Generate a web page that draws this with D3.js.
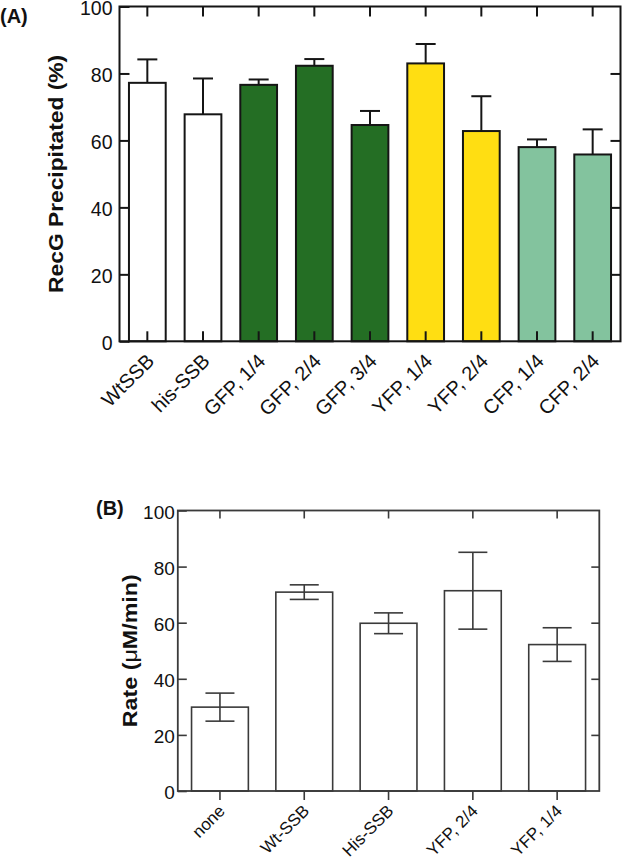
<!DOCTYPE html>
<html><head><meta charset="utf-8">
<script src="https://cdn.jsdelivr.net/npm/d3@7"></script>
<style>html,body{margin:0;padding:0;background:#fff;}svg{display:block;font-family:"Liberation Sans",Arial,sans-serif;}</style>
</head><body>
<script>
// Panel A data
const catsA = ["WtSSB","his-SSB","GFP, 1/4","GFP, 2/4","GFP, 3/4","YFP, 1/4","YFP, 2/4","CFP, 1/4","CFP, 2/4"];
const valsA = [77.2, 67.8, 76.6, 82.3, 64.6, 83.0, 62.8, 58.0, 55.8];
const errA  = [7.0, 10.7, 1.6, 2.0, 4.2, 5.8, 10.4, 2.3, 7.5];
const groupA = ["white","white","dkgreen","dkgreen","dkgreen","yellow","yellow","ltgreen","ltgreen"];
const ticksA = [0,20,40,60,80,100];
// Panel B data
const catsB = ["none","Wt-SSB","His-SSB","YFP, 2/4","YFP, 1/4"];
const valsB = [29.9, 70.9, 59.8, 71.4, 52.2];
const errB  = [5.0, 2.6, 3.7, 13.7, 6.0];
const ticksB = [0,20,40,60,80,100];

const colors = {white:"#ffffff", dkgreen:"#246e24", yellow:"#ffde12", ltgreen:"#83c39e"};

const W = 622, H = 862;
const svg = d3.select("body").append("svg").attr("width", W).attr("height", H);
svg.append("rect").attr("width", W).attr("height", H).attr("fill", "#fff");

// ---------- Panel A ----------
const A = {l:119.5, r:620.5, t:6.5, b:341.3};
const xA = d3.scaleBand().domain(catsA).range([A.l, A.r]).paddingInner(0.34).paddingOuter(0.17);
const yA = d3.scaleLinear().domain([0,100]).range([A.b, A.t]);
const gA = svg.append("g");

gA.selectAll("rect.bar").data(catsA).join("rect").attr("class","bar")
  .attr("x", d => xA(d)).attr("width", xA.bandwidth())
  .attr("y", (d,i) => yA(valsA[i])).attr("height", (d,i) => yA(0) - yA(valsA[i]))
  .attr("fill", (d,i) => colors[groupA[i]]).attr("stroke", "#151515").attr("stroke-width", 2);

const capA = 20;
catsA.forEach((c,i) => {
  const cx = xA(c) + xA.bandwidth()/2;
  gA.append("line").attr("x1", cx).attr("x2", cx).attr("y1", yA(valsA[i])).attr("y2", yA(valsA[i]+errA[i]))
    .attr("stroke", "#151515").attr("stroke-width", 2);
  gA.append("line").attr("x1", cx-capA/2).attr("x2", cx+capA/2).attr("y1", yA(valsA[i]+errA[i])).attr("y2", yA(valsA[i]+errA[i]))
    .attr("stroke", "#151515").attr("stroke-width", 2);
});

function styleAxis(g, color, sw){
  g.select(".domain").remove();
  g.selectAll(".tick line").attr("stroke", color).attr("stroke-width", sw);
}
const axAL = gA.append("g").attr("transform", `translate(${A.l},0)`)
  .call(d3.axisLeft(yA).tickValues(ticksA).tickSize(-10).tickSizeOuter(0).tickPadding(7));
styleAxis(axAL, "#151515", 2);
axAL.selectAll("text").attr("font-size", 19.5).attr("dy", "0.41em").attr("fill", "#111").attr("font-family", "Liberation Sans, Arial, sans-serif");
const axAR = gA.append("g").attr("transform", `translate(${A.r},0)`)
  .call(d3.axisRight(yA).tickValues(ticksA.filter(v=>v>0&&v<100)).tickSize(-10).tickSizeOuter(0).tickFormat(""));
styleAxis(axAR, "#151515", 2);
const axAT = gA.append("g").attr("transform", `translate(0,${A.t})`)
  .call(d3.axisTop(xA).tickSize(-10).tickSizeOuter(0).tickFormat(""));
styleAxis(axAT, "#151515", 2);
const axAB = gA.append("g").attr("transform", `translate(0,${A.b})`)
  .call(d3.axisBottom(xA).tickSize(-10).tickSizeOuter(0).tickFormat(""));
styleAxis(axAB, "#151515", 2);
gA.append("rect").attr("x", A.l).attr("y", A.t).attr("width", A.r-A.l).attr("height", A.b-A.t)
  .attr("fill", "none").attr("stroke", "#151515").attr("stroke-width", 2);

gA.selectAll("text.xl").data(catsA).join("text").attr("class","xl")
  .attr("transform", d => `translate(${xA(d)+xA.bandwidth()/2+8},${A.b+21}) rotate(-45)`)
  .attr("text-anchor", "end").attr("font-size", 20).attr("fill", "#111").text(d => d);

gA.append("text").attr("transform", `translate(63,${(A.t+A.b)/2}) rotate(-90)`)
  .attr("text-anchor", "middle").attr("font-size", 21).attr("font-weight", "bold").attr("fill", "#111")
  .attr("textLength", 238).attr("lengthAdjust", "spacingAndGlyphs")
  .text("RecG Precipitated (%)");
gA.append("text").attr("x", 0).attr("y", 23).attr("font-size", 20).attr("font-weight", "bold").attr("fill", "#111").text("(A)");

// ---------- Panel B ----------
const B = {l:177.8, r:599.3, t:510.5, b:791};
const xB = d3.scaleBand().domain(catsB).range([B.l, B.r]).paddingInner(0.326).paddingOuter(0.163);
const yB = d3.scaleLinear().domain([0,100]).range([B.b, B.t]);
const gB = svg.append("g");
const cB = "#3a3a3a";

gB.selectAll("rect.bar").data(catsB).join("rect").attr("class","bar")
  .attr("x", d => xB(d)).attr("width", xB.bandwidth())
  .attr("y", (d,i) => yB(valsB[i])).attr("height", (d,i) => yB(0) - yB(valsB[i]))
  .attr("fill", "#fff").attr("stroke", cB).attr("stroke-width", 1.6);

const capB = 29;
catsB.forEach((c,i) => {
  const cx = xB(c) + xB.bandwidth()/2;
  const lo = valsB[i]-errB[i], hi = valsB[i]+errB[i];
  gB.append("line").attr("x1", cx).attr("x2", cx).attr("y1", yB(lo)).attr("y2", yB(hi)).attr("stroke", cB).attr("stroke-width", 1.6);
  [lo,hi].forEach(v => gB.append("line").attr("x1", cx-capB/2).attr("x2", cx+capB/2).attr("y1", yB(v)).attr("y2", yB(v)).attr("stroke", cB).attr("stroke-width", 1.6));
});

const axBL = gB.append("g").attr("transform", `translate(${B.l},0)`)
  .call(d3.axisLeft(yB).tickValues(ticksB).tickSize(-9).tickSizeOuter(0).tickPadding(3));
styleAxis(axBL, cB, 1.6);
axBL.selectAll("text").attr("font-size", 19).attr("dy", "0.4em").attr("fill", "#111").attr("font-family", "Liberation Sans, Arial, sans-serif");
const axBR = gB.append("g").attr("transform", `translate(${B.r},0)`)
  .call(d3.axisRight(yB).tickValues(ticksB.filter(v=>v>0&&v<100)).tickSize(-8).tickSizeOuter(0).tickFormat(""));
styleAxis(axBR, cB, 1.6);
const axBT = gB.append("g").attr("transform", `translate(0,${B.t})`)
  .call(d3.axisTop(xB).tickSize(-8).tickSizeOuter(0).tickFormat(""));
styleAxis(axBT, cB, 1.6);
const axBB = gB.append("g").attr("transform", `translate(0,${B.b})`)
  .call(d3.axisBottom(xB).tickSize(9).tickSizeOuter(0).tickFormat(""));
styleAxis(axBB, cB, 1.6);
gB.append("rect").attr("x", B.l).attr("y", B.t).attr("width", B.r-B.l).attr("height", B.b-B.t)
  .attr("fill", "none").attr("stroke", cB).attr("stroke-width", 1.8);

gB.selectAll("text.xl").data(catsB).join("text").attr("class","xl")
  .attr("transform", d => `translate(${xB(d)+xB.bandwidth()/2+6},${B.b+21}) rotate(-45)`)
  .attr("text-anchor", "end").attr("font-size", 17).attr("fill", "#111").text(d => d);

const yl = gB.append("text").attr("transform", `translate(137,${(B.t+B.b)/2}) rotate(-90)`)
  .attr("text-anchor", "middle").attr("font-size", 21).attr("font-weight", "bold").attr("fill", "#111")
  .attr("textLength", 153).attr("lengthAdjust", "spacingAndGlyphs");
yl.append("tspan").text("Rate (");
yl.append("tspan").attr("font-weight", "normal").text("μ");
yl.append("tspan").text("M/min)");
gB.append("text").attr("x", 96).attr("y", 515).attr("font-size", 20).attr("font-weight", "bold").attr("fill", "#111").text("(B)");
</script>
</body></html>
